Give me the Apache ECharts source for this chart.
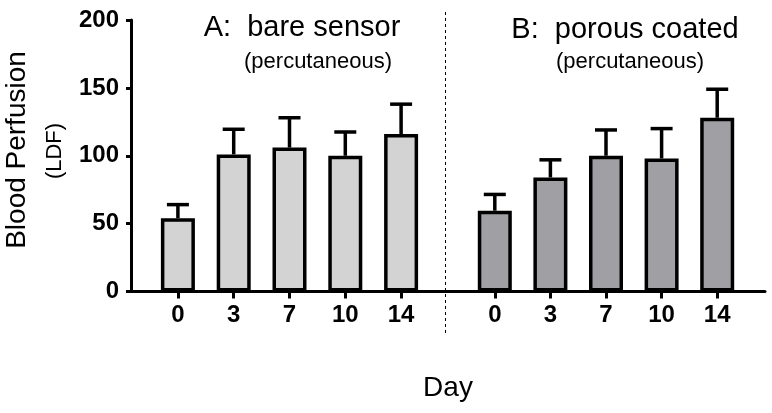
<!DOCTYPE html>
<html>
<head>
<meta charset="utf-8">
<script src="https://cdn.jsdelivr.net/npm/echarts@6/dist/echarts.min.js"></script>
<style>
html,body{margin:0;padding:0;background:#fff;}
#chart{width:772px;height:413px;}
</style>
</head>
<body>
<div id="chart"></div>
<script>
// ---- data ----
var daysA = ['0', '3', '7', '10', '14'];
var daysB = ['0', '3', '7', '10', '14'];
var meanA = [54, 101, 106, 100, 116];
var errA = [10, 18.5, 22, 17.5, 22];
var meanB = [59.5, 84, 100, 98, 128];
var errB = [12, 13, 19, 22, 21];
var yTicks = [0, 50, 100, 150, 200];

var FONT = "'Liberation Sans', Arial, sans-serif";
var chart = echarts.init(document.getElementById('chart'), null, {renderer: 'canvas'});

function errData(mean, err) {
  return mean.map(function (m, i) { return [i, m, m + err[i]]; });
}
function renderErr(params, api) {
  var p0 = api.coord([api.value(0), api.value(1)]);
  var p1 = api.coord([api.value(0), api.value(2)]);
  var half = 11;
  return {
    type: 'group',
    children: [
      {type: 'line', shape: {x1: p0[0], y1: p0[1], x2: p1[0], y2: p1[1]},
       style: {stroke: '#000', lineWidth: 3.5}},
      {type: 'line', shape: {x1: p1[0] - half, y1: p1[1], x2: p1[0] + half, y2: p1[1]},
       style: {stroke: '#000', lineWidth: 3.5}}
    ]
  };
}

var gridTop = 20, gridBottom = 121.5;
var yCommon = {type: 'value', min: yTicks[0], max: yTicks[yTicks.length - 1], interval: 50};

var option = {
  animation: false,
  backgroundColor: '#fff',
  grid: [
    {left: 131, right: 7, top: gridTop, bottom: gridBottom},
    {left: 150, width: 279, top: gridTop, bottom: gridBottom},
    {left: 467, width: 278, top: gridTop, bottom: gridBottom}
  ],
  xAxis: [
    {gridIndex: 0, type: 'value', min: 0, max: 1,
     axisLine: {show: true, onZero: false, lineStyle: {color: '#000', width: 3}},
     axisTick: {show: false}, axisLabel: {show: false}, splitLine: {show: false}},
    {gridIndex: 1, type: 'category', data: daysA,
     axisLine: {show: false},
     axisTick: {show: true, alignWithLabel: true, length: 7, lineStyle: {color: '#000', width: 3}},
     axisLabel: {color: '#000', fontFamily: FONT, fontWeight: 'bold', fontSize: 24, margin: 12},
     splitLine: {show: false}},
    {gridIndex: 2, type: 'category', data: daysB,
     axisLine: {show: false},
     axisTick: {show: true, alignWithLabel: true, length: 7, lineStyle: {color: '#000', width: 3}},
     axisLabel: {color: '#000', fontFamily: FONT, fontWeight: 'bold', fontSize: 24, margin: 12},
     splitLine: {show: false}}
  ],
  yAxis: [
    Object.assign({gridIndex: 0,
     axisLine: {show: true, lineStyle: {color: '#000', width: 3}},
     axisTick: {show: true, length: 5, lineStyle: {color: '#000', width: 3}},
     axisLabel: {color: '#000', fontFamily: FONT, fontWeight: 'bold', fontSize: 24, margin: 12},
     splitLine: {show: false}}, yCommon),
    Object.assign({gridIndex: 1, show: false, splitLine: {show: false}}, yCommon),
    Object.assign({gridIndex: 2, show: false, splitLine: {show: false}}, yCommon)
  ],
  series: [
    {type: 'bar', xAxisIndex: 1, yAxisIndex: 1, data: meanA, barWidth: 34,
     itemStyle: {color: '#d3d3d3', borderColor: '#000', borderWidth: 3.5}},
    {type: 'bar', xAxisIndex: 2, yAxisIndex: 2, data: meanB, barWidth: 34,
     itemStyle: {color: '#a0a0a4', borderColor: '#000', borderWidth: 3.5}},
    {type: 'custom', xAxisIndex: 1, yAxisIndex: 1, data: errData(meanA, errA),
     renderItem: renderErr, z: 5},
    {type: 'custom', xAxisIndex: 2, yAxisIndex: 2, data: errData(meanB, errB),
     renderItem: renderErr, z: 5}
  ],
  graphic: [
    {type: 'line', shape: {x1: 445.5, y1: 12, x2: 445.5, y2: 333},
     style: {stroke: '#000', lineWidth: 1, lineDash: [3, 3]}},
    {type: 'text', style: {text: 'A:  bare sensor', x: 302, y: 28, align: 'center', verticalAlign: 'middle',
      font: '29px ' + FONT, fill: '#000'}},
    {type: 'text', style: {text: '(percutaneous)', x: 318, y: 62, align: 'center', verticalAlign: 'middle',
      font: '22px ' + FONT, fill: '#000'}},
    {type: 'text', style: {text: 'B:  porous coated', x: 625, y: 30, align: 'center', verticalAlign: 'middle',
      font: '29px ' + FONT, fill: '#000'}},
    {type: 'text', style: {text: '(percutaneous)', x: 630, y: 62, align: 'center', verticalAlign: 'middle',
      font: '22px ' + FONT, fill: '#000'}},
    {type: 'text', style: {text: 'Day', x: 448, y: 388, align: 'center', verticalAlign: 'middle',
      font: '28px ' + FONT, fill: '#000'}},
    {type: 'text', x: 17, y: 150, rotation: Math.PI / 2,
     style: {text: 'Blood Perfusion', x: 0, y: 0, align: 'center', verticalAlign: 'middle',
      font: '28px ' + FONT, fill: '#000'}},
    {type: 'text', x: 55, y: 151, rotation: Math.PI / 2,
     style: {text: '(LDF)', x: 0, y: 0, align: 'center', verticalAlign: 'middle',
      font: '22px ' + FONT, fill: '#000'}}
  ]
};
chart.setOption(option);
</script>
</body>
</html>
